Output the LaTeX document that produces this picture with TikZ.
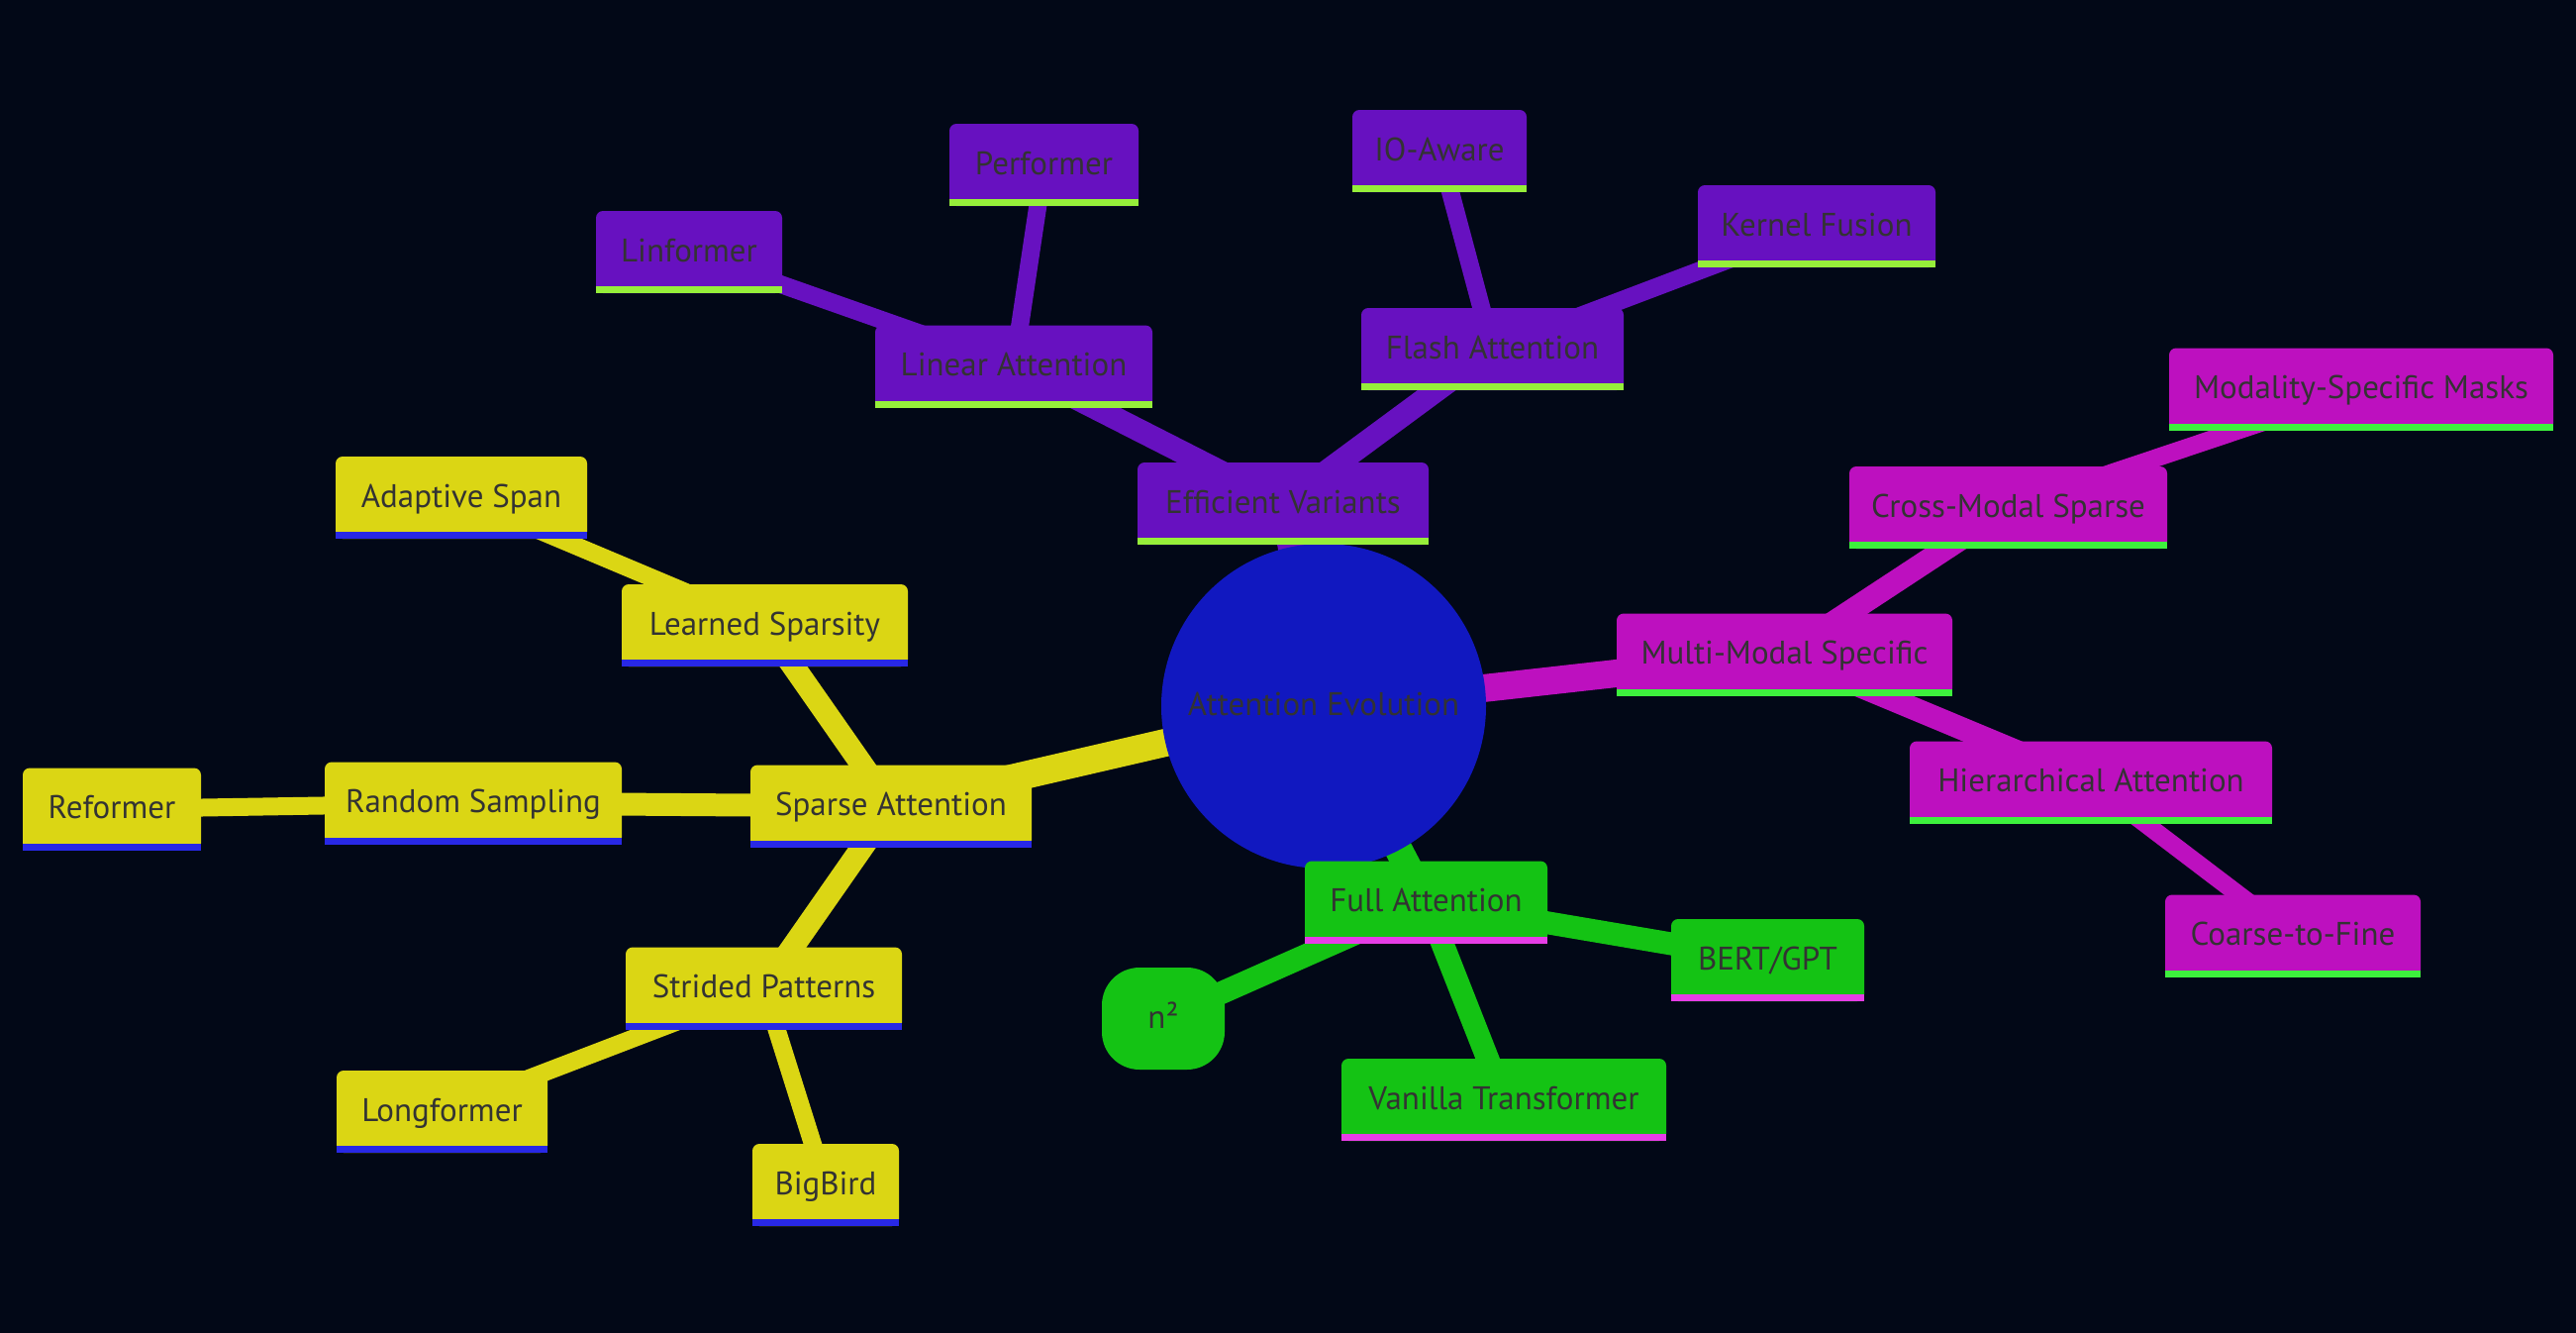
\documentclass[tikz,border=0pt]{standalone}
\usepackage{fontspec}
\setmainfont{PT Sans}
\definecolor{bgc}{HTML}{020817}
\definecolor{rootc}{HTML}{1118C0}
\definecolor{yel}{HTML}{DBD614}
\definecolor{yband}{HTML}{2828E6}
\definecolor{purp}{HTML}{6711C0}
\definecolor{pband}{HTML}{96EE3A}
\definecolor{mag}{HTML}{BD10BF}
\definecolor{mband}{HTML}{3DF03D}
\definecolor{grn}{HTML}{14C314}
\definecolor{gband}{HTML}{E63DE6}
\definecolor{txt}{HTML}{333333}
\pgfdeclarelayer{bg}
\pgfdeclarelayer{edges}
\pgfsetlayers{bg,edges,main}
\tikzset{
  box/.style={rectangle, rounded corners=7pt, minimum height=83pt, inner sep=0pt,
    text=txt, text height=23pt, text depth=4pt, font=\fontsize{33}{40}\selectfont},
  ybox/.style={box, fill=yel},
  pbox/.style={box, fill=purp},
  mbox/.style={box, fill=mag},
  gbox/.style={box, fill=grn},
  rootn/.style={circle, fill=rootc, minimum size=328pt, inner sep=0pt,
    text=txt, text height=23pt, text depth=4pt, font=\fontsize{33}{40}\selectfont},
  e0/.style={line width=28pt},
  e1/.style={line width=23pt},
  e2/.style={line width=18pt},
}
\begin{document}
\begin{tikzpicture}[x=1pt,y=-1pt]
\begin{pgfonlayer}{bg}
\fill[bgc] (0,0) rectangle (2602,1346);
\end{pgfonlayer}

\node[rootn] (root) at (1337,713) {Attention Evolution};

% Efficient Variants branch
\node[pbox, minimum width=294pt] (ev) at (1296,508.5) {Efficient Variants};
\node[pbox, minimum width=280pt] (la) at (1024,370) {Linear Attention};
\node[pbox, minimum width=188pt] (lin) at (696,254.5) {Linformer};
\node[pbox, minimum width=191pt] (perf) at (1054.5,166.5) {Performer};
\node[pbox, minimum width=265pt] (fa) at (1507.5,352.5) {Flash Attention};
\node[pbox, minimum width=176pt] (io) at (1454,152.5) {IO-Aware};
\node[pbox, minimum width=240pt] (kf) at (1835,228.5) {Kernel Fusion};

% Multi-Modal branch
\node[mbox, minimum width=339pt] (mm) at (1802.5,661) {Multi-Modal Specific};
\node[mbox, minimum width=321pt] (cm) at (2028.5,512.5) {Cross-Modal Sparse};
\node[mbox, minimum width=388pt] (msm) at (2385,393) {Modality-Specific Masks};
\node[mbox, minimum width=366pt] (ha) at (2112,790) {Hierarchical Attention};
\node[mbox, minimum width=258pt] (cf) at (2316,945) {Coarse-to-Fine};

% Full Attention branch
\node[gbox, minimum width=245pt] (full) at (1440.5,911) {Full Attention};
\node[gbox, minimum width=195pt] (bg) at (1785.5,969.5) {BERT/GPT};
\node[gbox, minimum width=328pt] (vt) at (1519,1110.5) {Vanilla Transformer};
\node[gbox, rounded corners=38pt, minimum width=124pt, minimum height=103pt] (n2) at (1175,1028.5) {n²};

% Sparse Attention branch
\node[ybox, minimum width=284pt] (sa) at (900,814) {Sparse Attention};
\node[ybox, minimum width=289pt] (ls) at (772.5,631.5) {Learned Sparsity};
\node[ybox, minimum width=254pt] (as) at (466,502.5) {Adaptive Span};
\node[ybox, minimum width=300pt] (rs) at (478,811) {Random Sampling};
\node[ybox, minimum width=180pt] (ref) at (113,817) {Reformer};
\node[ybox, minimum width=279pt] (sp) at (771.5,998) {Strided Patterns};
\node[ybox, minimum width=213pt] (lf) at (446.5,1122.5) {Longformer};
\node[ybox, minimum width=148pt] (bb) at (834,1196.5) {BigBird};

% bottom bands
\foreach \n in {ev,la,lin,perf,fa,io,kf}
  \fill[pband] (\n.south west) rectangle ([yshift=7pt]\n.south east);
\foreach \n in {mm,cm,msm,ha,cf}
  \fill[mband] (\n.south west) rectangle ([yshift=7pt]\n.south east);
\foreach \n in {full,bg,vt}
  \fill[gband] (\n.south west) rectangle ([yshift=7pt]\n.south east);
\foreach \n in {sa,ls,as,rs,ref,sp,lf,bb}
  \fill[yband] (\n.south west) rectangle ([yshift=7pt]\n.south east);

\begin{pgfonlayer}{edges}
\draw[e0, purp] (root.center) -- (ev.center);
\draw[e1, purp] (ev.center) -- (la.center);
\draw[e1, purp] (ev.center) -- (fa.center);
\draw[e2, purp] (la.center) -- (lin.center);
\draw[e2, purp] (la.center) -- (perf.center);
\draw[e2, purp] (fa.center) -- (io.center);
\draw[e2, purp] (fa.center) -- (kf.center);

\draw[e0, mag] (root.center) -- (mm.center);
\draw[e1, mag] (mm.center) -- (cm.center);
\draw[e1, mag] (mm.center) -- (ha.center);
\draw[e2, mag] (cm.center) -- (msm.center);
\draw[e2, mag] (ha.center) -- (cf.center);

\draw[e0, grn] (root.center) -- (full.center);
\draw[e1, grn] (full.center) -- (bg.center);
\draw[e1, grn] (full.center) -- (vt.center);
\draw[e1, grn] (full.center) -- (n2.center);

\draw[e0, yel] (root.center) -- (sa.center);
\draw[e1, yel] (sa.center) -- (ls.center);
\draw[e1, yel] (sa.center) -- (rs.center);
\draw[e1, yel] (sa.center) -- (sp.center);
\draw[e2, yel] (ls.center) -- (as.center);
\draw[e2, yel] (rs.center) -- (ref.center);
\draw[e2, yel] (sp.center) -- (lf.center);
\draw[e2, yel] (sp.center) -- (bb.center);
\end{pgfonlayer}
\end{tikzpicture}
\end{document}
